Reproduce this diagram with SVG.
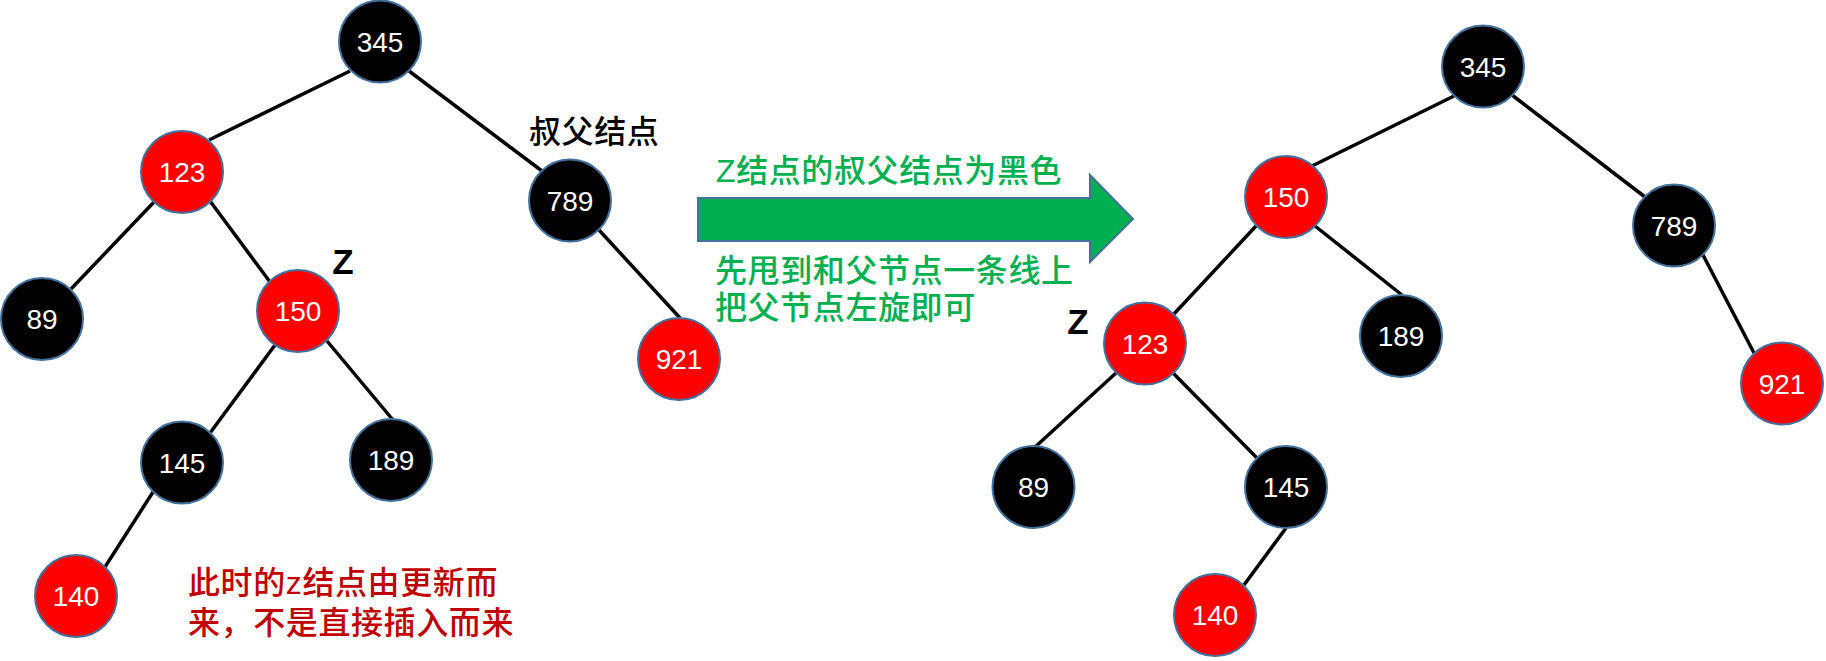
<svg xmlns="http://www.w3.org/2000/svg" width="1826" height="661" viewBox="0 0 1826 661">
<style>
.edge{stroke:#000;stroke-width:3.5;fill:none}
.nb{fill:#000;stroke:#41719C;stroke-width:2}
.nr{fill:#FF0000;stroke:#41719C;stroke-width:2}
.num{font-family:"Liberation Sans",Arial,sans-serif;font-size:28px;fill:#fff;text-anchor:middle}
.zl{font-family:"Liberation Sans",Arial,sans-serif;font-size:35px;font-weight:bold;fill:#000;text-anchor:middle}
.cjk{font-family:"Liberation Sans","Noto Sans CJK SC",sans-serif;font-size:32px;font-weight:500;letter-spacing:0.6px}
</style>
<rect width="1826" height="661" fill="#fff"/>
<g id="connectors">
<line class="edge" x1="350" y1="71" x2="209" y2="140"/>
<line class="edge" x1="409" y1="71" x2="542" y2="171"/>
<line class="edge" x1="154" y1="202" x2="71" y2="289"/>
<line class="edge" x1="210" y1="201" x2="270" y2="282"/>
<line class="edge" x1="599" y1="230" x2="680" y2="318"/>
<line class="edge" x1="275" y1="345" x2="210" y2="433"/>
<line class="edge" x1="327" y1="341" x2="393" y2="420"/>
<line class="edge" x1="153" y1="492" x2="105" y2="567"/>
<line class="edge" x1="1454" y1="96" x2="1312" y2="166"/>
<line class="edge" x1="1512" y1="95" x2="1645" y2="197"/>
<line class="edge" x1="1256" y1="226" x2="1173" y2="315"/>
<line class="edge" x1="1315" y1="226" x2="1402" y2="295"/>
<line class="edge" x1="1703" y1="255" x2="1754" y2="353"/>
<line class="edge" x1="1116" y1="373" x2="1034" y2="448"/>
<line class="edge" x1="1173" y1="373" x2="1257" y2="458"/>
<line class="edge" x1="1286" y1="528" x2="1244" y2="585"/>
</g>
<g id="L345"><circle class="nb" cx="380" cy="41.5" r="41"/><text class="num" x="380" y="51.5">345</text></g>
<g id="L123"><circle class="nr" cx="182" cy="172" r="41"/><text class="num" x="182" y="182">123</text></g>
<g id="L789"><circle class="nb" cx="570" cy="200.5" r="41"/><text class="num" x="570" y="210.5">789</text></g>
<g id="L89"><circle class="nb" cx="42" cy="319" r="41"/><text class="num" x="42" y="329">89</text></g>
<g id="L150"><circle class="nr" cx="298" cy="311" r="41"/><text class="num" x="298" y="321">150</text></g>
<g id="L921"><circle class="nr" cx="679" cy="359" r="41"/><text class="num" x="679" y="369">921</text></g>
<g id="L145"><circle class="nb" cx="182" cy="462.5" r="41"/><text class="num" x="182" y="472.5">145</text></g>
<g id="L189"><circle class="nb" cx="391" cy="460" r="41"/><text class="num" x="391" y="470">189</text></g>
<g id="L140"><circle class="nr" cx="76" cy="596" r="41"/><text class="num" x="76" y="606">140</text></g>
<g id="R345"><circle class="nb" cx="1483" cy="66.5" r="41"/><text class="num" x="1483" y="76.5">345</text></g>
<g id="R150"><circle class="nr" cx="1286" cy="197" r="41"/><text class="num" x="1286" y="207">150</text></g>
<g id="R789"><circle class="nb" cx="1674" cy="225.5" r="41"/><text class="num" x="1674" y="235.5">789</text></g>
<g id="R123"><circle class="nr" cx="1145" cy="343.5" r="41"/><text class="num" x="1145" y="353.5">123</text></g>
<g id="R189"><circle class="nb" cx="1401" cy="336" r="41"/><text class="num" x="1401" y="346">189</text></g>
<g id="R921"><circle class="nr" cx="1782" cy="383.5" r="41"/><text class="num" x="1782" y="393.5">921</text></g>
<g id="R89"><circle class="nb" cx="1033.5" cy="487" r="41"/><text class="num" x="1033.5" y="497">89</text></g>
<g id="R145"><circle class="nb" cx="1286" cy="487" r="41"/><text class="num" x="1286" y="497">145</text></g>
<g id="R140"><circle class="nr" cx="1215" cy="615" r="41"/><text class="num" x="1215" y="625">140</text></g>
<g id="labels">
<text class="cjk" x="529" y="143" fill="#000" font-weight="bold" font-size="30" letter-spacing="1.5">叔父结点</text>
<text class="zl" x="343" y="274">Z</text>
<text class="zl" x="1078" y="334">Z</text>
<text class="cjk" x="188" y="594" fill="#C00000">此时的z结点由更新而</text>
<text class="cjk" x="188" y="634" fill="#C00000">来，不是直接插入而来</text>
</g>
<g id="arrow">
<polygon points="698,198 1090,198 1090,175 1133,219 1090,262 1090,241 698,241" fill="#00B050" stroke="#41719C" stroke-width="2"/>
<text class="cjk" x="716" y="182" fill="#00B050">Z结点的叔父结点为黑色</text>
<text class="cjk" x="715" y="282" fill="#00B050">先甩到和父节点一条线上</text>
<text class="cjk" x="715" y="319" fill="#00B050">把父节点左旋即可</text>
</g>
</svg>
